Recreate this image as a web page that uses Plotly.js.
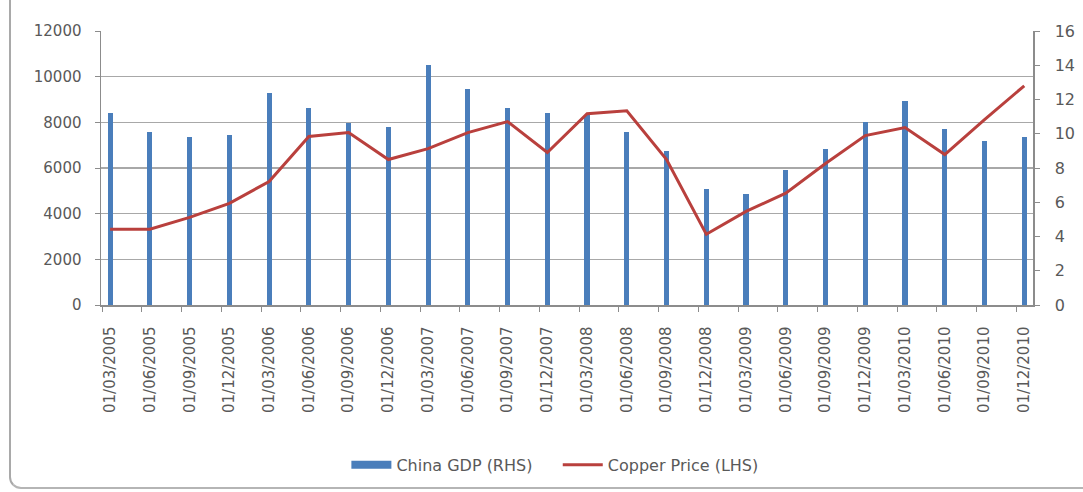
<!DOCTYPE html>
<html>
<head>
<meta charset="utf-8">
<script src="https://cdn.plot.ly/plotly-3.0.1.min.js"></script>
<style>
  html, body { margin: 0; padding: 0; background: #ffffff; }
  #wrap { position: relative; width: 1083px; height: 492px; overflow: hidden; background: #fff; }
  #frame { position: absolute; left: 9px; top: -10px; width: 1090px; height: 497px;
           border-left: 2px solid #a9a9a9; border-bottom: 2px solid #b5b5b5;
           border-bottom-left-radius: 12px; }
  #chart { position: absolute; left: 0; top: 0; width: 1083px; height: 492px; }
</style>
</head>
<body>
<div id="wrap">
  <div id="frame"></div>
  <div id="chart"></div>
</div>
<script>
// Quarter dates (category labels)
const quarters = [
  "01/03/2005","01/06/2005","01/09/2005","01/12/2005",
  "01/03/2006","01/06/2006","01/09/2006","01/12/2006",
  "01/03/2007","01/06/2007","01/09/2007","01/12/2007",
  "01/03/2008","01/06/2008","01/09/2008","01/12/2008",
  "01/03/2009","01/06/2009","01/09/2009","01/12/2009",
  "01/03/2010","01/06/2010","01/09/2010","01/12/2010"
];
// China GDP growth (%), right-hand scale
const chinaGDP = [
  11.2, 10.1, 9.8, 9.9,
  12.4, 11.5, 10.6, 10.4,
  14.0, 12.6, 11.5, 11.2,
  11.1, 10.1, 9.0, 6.8,
  6.5, 7.9, 9.1, 10.7,
  11.9, 10.3, 9.6, 9.8
];
// Copper price (USD/t), left-hand scale
const copperPrice = [
  3320, 3320, 3840, 4450,
  5410, 7380, 7550, 6370,
  6850, 7550, 8030, 6680,
  8380, 8510, 6370, 3100,
  4100, 4900, 6200, 7420,
  7770, 6590, 8120, 9600
];

const tickFont = {family: "DejaVu Sans", size: 15, color: "#595959"};
const xRange = [-0.23, 23.22];
const gdpColor = "#4a7ebb";
const copperColor = "#b9403d";

const data = [
  {
    type: "bar",
    name: "China GDP (RHS)",
    x: quarters,
    y: chinaGDP,
    xaxis: "x",
    yaxis: "y",
    width: 0.13,
    marker: {color: gdpColor, line: {width: 0}},
    showlegend: false,
    legendgroup: "gdp"
  },
  {
    // legend entry for the bars (wide rectangle swatch, as in the original)
    type: "scatter",
    mode: "lines",
    name: "China GDP (RHS)\u00a0\u00a0\u00a0\u00a0",
    x: [null],
    y: [null],
    xaxis: "x",
    yaxis: "y",
    line: {color: gdpColor, width: 8},
    legendgroup: "gdp",
    hoverinfo: "skip"
  },
  {
    type: "scatter",
    mode: "lines",
    name: "Copper Price (LHS)",
    x: quarters,
    y: copperPrice,
    xaxis: "x",
    yaxis: "y2",
    line: {color: copperColor, width: 3}
  },
  {
    type: "scatter",
    mode: "markers",
    x: [],
    y: [],
    xaxis: "x2",
    yaxis: "y",
    showlegend: false,
    hoverinfo: "skip"
  }
];

const layout = {
  width: 1083,
  height: 492,
  margin: {l: 101, r: 50, t: 31, b: 186},
  paper_bgcolor: "rgba(0,0,0,0)",
  plot_bgcolor: "rgba(0,0,0,0)",
  font: {family: "DejaVu Sans", color: "#595959"},
  bargap: 0,
  xaxis: {
    type: "category",
    range: xRange,
    tickangle: -90,
    tickfont: tickFont,
    ticks: "",
    showgrid: false,
    zeroline: false,
    showline: true,
    linecolor: "#8c8c8c",
    linewidth: 1.5,
    ticklabelstandoff: 14,
    fixedrange: true
  },
  xaxis2: {
    type: "linear",
    overlaying: "x",
    anchor: "y",
    range: xRange,
    tick0: -0.2,
    dtick: 1,
    ticks: "outside",
    ticklen: 6,
    tickwidth: 1,
    tickcolor: "#8c8c8c",
    showticklabels: false,
    showgrid: false,
    zeroline: false,
    showline: false,
    fixedrange: true
  },
  // right-hand axis: GDP
  yaxis: {
    side: "right",
    range: [0, 16],
    dtick: 2,
    tick0: 0,
    tickfont: {family: "DejaVu Sans", size: 16, color: "#595959"},
    ticks: "outside",
    ticklen: 5,
    tickcolor: "#8c8c8c",
    showgrid: false,
    zeroline: false,
    showline: true,
    linecolor: "#8c8c8c",
    linewidth: 1.5,
    ticklabelstandoff: 12,
    fixedrange: true
  },
  // left-hand axis: copper price
  yaxis2: {
    overlaying: "y",
    side: "left",
    range: [0, 12000],
    dtick: 2000,
    tick0: 0,
    tickformat: "d",
    tickfont: tickFont,
    ticks: "outside",
    ticklen: 5,
    tickcolor: "#8c8c8c",
    showgrid: true,
    gridcolor: "#a8a8a8",
    gridwidth: 1.5,
    zeroline: false,
    showline: true,
    linecolor: "#8c8c8c",
    linewidth: 1.5,
    ticklabelstandoff: 10,
    fixedrange: true
  },
  legend: {
    orientation: "h",
    x: 0.487,
    xanchor: "center",
    y: -0.578,
    yanchor: "middle",
    font: {family: "DejaVu Sans", size: 16, color: "#595959"},
    itemwidth: 40,
    tracegroupgap: 0,
    bgcolor: "rgba(0,0,0,0)"
  },
  showlegend: true
};

Plotly.newPlot("chart", data, layout, {displayModeBar: false, staticPlot: true});
</script>
</body>
</html>
